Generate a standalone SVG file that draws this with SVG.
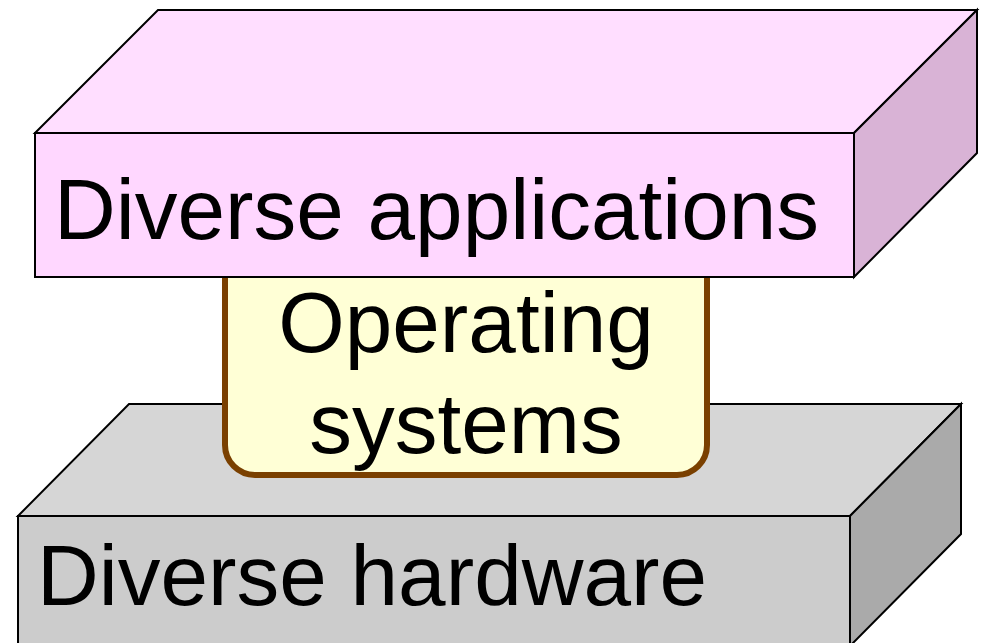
<svg xmlns="http://www.w3.org/2000/svg" width="987" height="643" viewBox="0 0 987 643">
  <style>
    .edge { stroke: #000; stroke-width: 2; stroke-linejoin: miter; }
    .label { font-family: "Liberation Sans", Arial, sans-serif; font-size: 85.5px; fill: #000; }
    .hw-top { fill: #d6d6d6; }
    .hw-front { fill: #cccccc; }
    .hw-side { fill: #aaaaaa; }
    .app-top { fill: #ffdeff; }
    .app-front { fill: #ffd7ff; }
    .app-side { fill: #d9b3d6; }
    .os-box { fill: #ffffd6; stroke: #7a4000; stroke-width: 6; }
  </style>
  <rect width="987" height="643" fill="#ffffff"/>

  <!-- hardware slab -->
  <g id="hardware">
    <polygon class="hw-top edge" points="18,516 129,404 961,404 850,516"/>
    <polygon class="hw-side edge" points="850,516 961,404 961,534 850,646"/>
    <rect class="hw-front edge" x="18" y="516" width="832" height="130"/>
    <text class="label" x="37" y="605">Diverse hardware</text>
  </g>

  <!-- operating system layer -->
  <g id="operating-systems">
    <rect class="os-box" x="225" y="240" width="482" height="235" rx="30" ry="30"/>
    <text class="label" x="466" y="352" text-anchor="middle">Operating</text>
    <text class="label" x="466" y="453" text-anchor="middle">systems</text>
  </g>

  <!-- application slab -->
  <g id="applications">
    <polygon class="app-top edge" points="35,133 158,10 977,10 854,133"/>
    <polygon class="app-side edge" points="854,133 977,10 977,153 854,277"/>
    <rect class="app-front edge" x="35" y="133" width="819" height="144"/>
    <text class="label" x="54" y="239">Diverse applications</text>
  </g>
</svg>
